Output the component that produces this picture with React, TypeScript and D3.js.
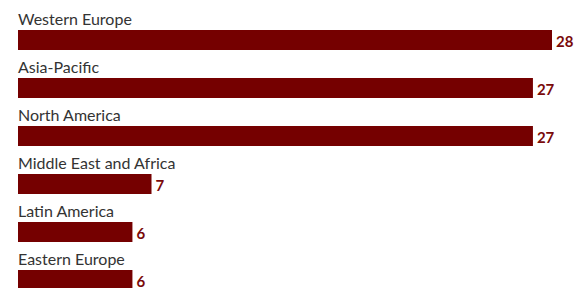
import React from "react";
import * as d3 from "d3";

const categories = ["Western Europe", "Asia-Pacific", "North America", "Middle East and Africa", "Latin America", "Eastern Europe"];
const values = [28, 27, 27, 7, 6, 6];

export default function App() {
  const width = 586, height = 288;
  const x = d3.scaleLinear().domain([0, 28]).range([18, 552]);
  const y = d3.scaleBand().domain(categories).range([0, 288]).paddingInner(0).paddingOuter(0);
  return (
    <svg width={width} height={height} style={{ position: "absolute", left: 0, top: 0 }}>
      {categories.map((c, i) => {
        const y0 = y(c)!;
        return (
          <g key={c}>
            <text x={18} y={y0 + 25} fontFamily="Lato, 'Open Sans', sans-serif" fontSize={16} fill="#333">{c}</text>
            <rect x={x(0)} y={y0 + 30} width={x(values[i]) - x(0)} height={20} fill="#750000" />
            <text x={x(values[i]) + 4} y={y0 + 47} fontFamily="Lato, 'Open Sans', sans-serif" fontWeight="bold" fontSize={15} fill="#7a0a0a">{values[i]}</text>
          </g>
        );
      })}
    </svg>
  );
}
